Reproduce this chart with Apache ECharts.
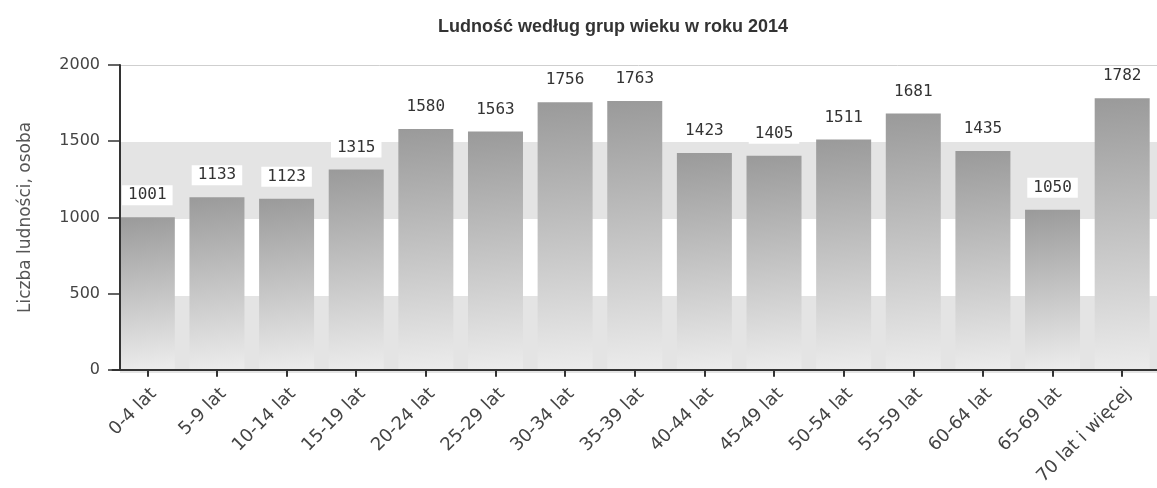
<!DOCTYPE html>
<html>
<head>
<meta charset="utf-8">
<title>Ludność według grup wieku w roku 2014</title>
<script src="https://cdn.jsdelivr.net/npm/echarts@6/dist/echarts.min.js"></script>
<style>
  html, body { margin: 0; padding: 0; background: #fff; }
  #chart { width: 1157px; height: 488px; }
</style>
</head>
<body>
<div id="chart"></div>
<script>
// dane
const categories = ['0-4 lat', '5-9 lat', '10-14 lat', '15-19 lat', '20-24 lat', '25-29 lat', '30-34 lat',
  '35-39 lat', '40-44 lat', '45-49 lat', '50-54 lat', '55-59 lat', '60-64 lat', '65-69 lat', '70 lat i więcej']
const population = [1001, 1133, 1123, 1315, 1580, 1563, 1756, 1763, 1423, 1405, 1511, 1681, 1435, 1050, 1782]
const yTicks = [0, 500, 1000, 1500, 2000]

const chart = echarts.init(document.getElementById('chart'))

const plotTop = 65
const plotBottom = 115

const option = {
  animation: false,
  title: {
    text: 'Ludność według grup wieku w roku 2014',
    left: 608,
    top: 13,
    textAlign: 'center',
    textStyle: {
      fontFamily: '"Liberation Sans Narrow", "Liberation Sans", sans-serif',
      fontWeight: 'bold',
      fontSize: 18,
      color: '#333'
    }
  },
  grid: [
    // slupki i osie
    { left: 112.5, width: 1052, top: plotTop, bottom: plotBottom },
    // tlo z pasami
    { left: 120, width: 1052, top: plotTop, bottom: plotBottom }
  ],
  xAxis: [
    {
      type: 'category',
      gridIndex: 0,
      z: 5,
      data: categories,
      axisLine: { lineStyle: { color: '#333', width: 2 } },
      axisTick: { show: true, alignWithLabel: true, interval: 0, length: 7, lineStyle: { color: '#333', width: 2 } },
      axisLabel: {
        interval: 0,
        rotate: 45,
        margin: 15,
        verticalAlign: 'top',
        fontFamily: '"DejaVu Sans", sans-serif',
        fontSize: 18,
        color: '#444'
      }
    },
    { type: 'value', gridIndex: 1, show: false, min: 0, max: 1 }
  ],
  yAxis: [
    {
      type: 'value',
      gridIndex: 0,
      z: 5,
      min: yTicks[0],
      max: yTicks[yTicks.length - 1],
      interval: 500,
      offset: -7.5,
      name: 'Liczba ludności, osoba',
      nameLocation: 'middle',
      nameGap: 86,
      nameTextStyle: {
        fontFamily: '"DejaVu Sans", sans-serif',
        fontSize: 17,
        color: '#555'
      },
      axisLine: { show: true, lineStyle: { color: '#333', width: 2 } },
      axisTick: { show: true, length: 12, lineStyle: { color: '#333', width: 1.5 } },
      axisLabel: {
        margin: 20,
        fontFamily: '"DejaVu Sans", sans-serif',
        fontSize: 16,
        color: '#444',
        formatter: (v) => String(v)
      },
      splitLine: { show: false }
    },
    {
      type: 'value',
      gridIndex: 1,
      min: yTicks[0],
      max: yTicks[yTicks.length - 1],
      interval: 500,
      axisLine: { show: false },
      axisTick: { show: false },
      axisLabel: { show: false },
      splitLine: {
        show: true,
        lineStyle: { color: ['transparent', 'transparent', 'transparent', 'transparent', '#cfcfcf'], width: 1 }
      },
      splitArea: {
        show: true,
        areaStyle: { color: ['#e4e4e4', '#ffffff'] }
      }
    }
  ],
  series: [
    {
      type: 'bar',
      xAxisIndex: 0,
      yAxisIndex: 0,
      data: population,
      barWidth: 55,
      itemStyle: {
        color: new echarts.graphic.LinearGradient(0, 0, 0.35, 1, [
          { offset: 0, color: '#9a9a9a' },
          { offset: 1, color: '#ebebeb' }
        ])
      },
      label: {
        show: true,
        position: 'top',
        distance: 12,
        fontFamily: '"DejaVu Sans Mono", monospace',
        fontSize: 16,
        color: '#333',
        backgroundColor: '#fff',
        padding: [2, 6, 2, 6]
      }
    }
  ]
}

chart.setOption(option)
</script>
</body>
</html>
